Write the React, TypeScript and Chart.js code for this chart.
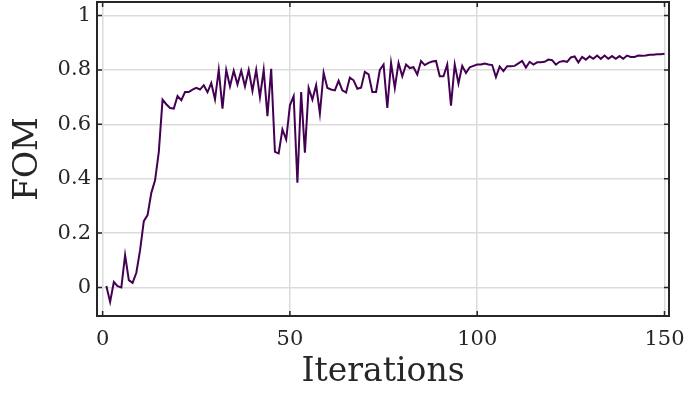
import React, { useEffect, useRef } from "react";
import { Chart, registerables } from "chart.js";

Chart.register(...registerables);

// Figure of merit recorded at each optimisation iteration (1..150)
const fom: number[] = [
  0.005, -0.053, 0.02, 0.005, 0.0, 0.119, 0.027, 0.017, 0.054, 0.137,
  0.244, 0.266, 0.348, 0.394, 0.499, 0.691, 0.674, 0.66, 0.658, 0.704,
  0.689, 0.719, 0.719, 0.728, 0.734, 0.728, 0.744, 0.718, 0.752, 0.692,
  0.8, 0.658, 0.8, 0.74, 0.797, 0.747, 0.797, 0.74, 0.8, 0.723,
  0.8, 0.7, 0.8, 0.63, 0.804, 0.499, 0.493, 0.581, 0.544, 0.67,
  0.704, 0.385, 0.719, 0.496, 0.734, 0.691, 0.744, 0.64, 0.79, 0.734,
  0.728, 0.725, 0.76, 0.725, 0.717, 0.772, 0.762, 0.731, 0.735, 0.793,
  0.784, 0.719, 0.719, 0.8, 0.82, 0.66, 0.826, 0.734, 0.826, 0.777,
  0.82, 0.807, 0.81, 0.783, 0.833, 0.818, 0.826, 0.831, 0.833, 0.777,
  0.777, 0.82, 0.669, 0.82, 0.75, 0.815, 0.789, 0.81, 0.815, 0.82,
  0.82, 0.824, 0.82, 0.818, 0.774, 0.813, 0.796, 0.814, 0.814, 0.815,
  0.824, 0.833, 0.809, 0.83, 0.82, 0.828, 0.828, 0.83, 0.838, 0.836,
  0.82, 0.83, 0.833, 0.83, 0.846, 0.85, 0.828, 0.848, 0.838, 0.85,
  0.841, 0.853, 0.841, 0.853, 0.841, 0.851, 0.841, 0.851, 0.841, 0.853,
  0.848, 0.848, 0.853, 0.852, 0.853, 0.856, 0.856, 0.858, 0.858, 0.86,
];
const iterations: number[] = fom.map((_, i) => i + 1);

const xTicks: number[] = [0, 50, 100, 150];
const yTicks: number[] = [0, 0.2, 0.4, 0.6, 0.8, 1];

const FONT = "'DejaVu Serif', serif";
const INK = "#262626";

// Closed axes box with short inward tick marks on all four sides
const boxPlugin = {
  id: "boxAxes",
  afterDatasetsDraw(chart: any) {
    const { ctx, chartArea: a, scales } = chart;
    const len = 5;
    ctx.save();
    ctx.strokeStyle = INK;
    ctx.lineWidth = 1.5;
    ctx.beginPath();
    for (const v of xTicks) {
      const px = scales.x.getPixelForValue(v);
      ctx.moveTo(px, a.bottom);
      ctx.lineTo(px, a.bottom - len);
      ctx.moveTo(px, a.top);
      ctx.lineTo(px, a.top + len);
    }
    for (const v of yTicks) {
      const py = scales.y.getPixelForValue(v);
      ctx.moveTo(a.left, py);
      ctx.lineTo(a.left + len, py);
      ctx.moveTo(a.right, py);
      ctx.lineTo(a.right - len, py);
    }
    ctx.stroke();
    ctx.lineWidth = 2;
    ctx.strokeRect(a.left, a.top, a.right - a.left, a.bottom - a.top);
    ctx.restore();
  },
};

export default function App() {
  const ref = useRef<HTMLCanvasElement | null>(null);

  useEffect(() => {
    if (!ref.current) return;
    const chart = new Chart(ref.current, {
      type: "line",
      data: {
        labels: iterations,
        datasets: [
          {
            data: iterations.map((x, i) => ({ x, y: fom[i] })),
            borderColor: "#440154",
            borderWidth: 2,
            pointRadius: 0,
            tension: 0,
            fill: false,
          },
        ],
      },
      options: {
        animation: false,
        responsive: false,
        layout: { padding: { top: 2, right: 21, left: 0, bottom: 0 } },
        plugins: { legend: { display: false }, tooltip: { enabled: false } },
        scales: {
          x: {
            type: "linear",
            min: -1.5,
            max: 151.2,
            afterBuildTicks: (s: any) => {
              s.ticks = xTicks.map((v) => ({ value: v }));
            },
            afterFit: (s: any) => {
              s.height = 78;
              s.paddingLeft = 0;
              s.paddingRight = 0;
            },
            grid: { color: "#dcdcdc", lineWidth: 1.5, drawTicks: false },
            border: { display: false },
            ticks: {
              padding: 11,
              color: INK,
              font: { family: FONT, size: 21 },
              maxRotation: 0,
            },
            title: {
              display: true,
              text: "Iterations",
              color: INK,
              font: { family: FONT, size: 33 },
              padding: { top: 0, bottom: 2 },
            },
          },
          y: {
            type: "linear",
            min: -0.105,
            max: 1.05,
            afterBuildTicks: (s: any) => {
              s.ticks = yTicks.map((v) => ({ value: v }));
            },
            afterFit: (s: any) => {
              s.width = 97;
              s.paddingTop = 0;
              s.paddingBottom = 0;
            },
            grid: { color: "#dcdcdc", lineWidth: 1.5, drawTicks: false },
            border: { display: false },
            ticks: {
              padding: 6,
              color: INK,
              font: { family: FONT, size: 21 },
              callback: (v: any) => String(Math.round(Number(v) * 10) / 10),
            },
            title: {
              display: true,
              text: "FOM",
              color: INK,
              font: { family: FONT, size: 33 },
              padding: { top: 9, bottom: 0 },
            },
          },
        },
      },
      plugins: [boxPlugin],
    });
    return () => chart.destroy();
  }, []);

  return (
    <div
      style={{
        position: "fixed",
        left: 0,
        top: 0,
        width: 690,
        height: 394,
        background: "#ffffff",
      }}
    >
      <canvas ref={ref} width={690} height={394} />
    </div>
  );
}
